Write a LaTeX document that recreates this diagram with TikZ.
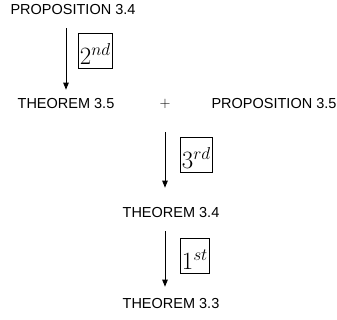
\documentclass[tikz,border=0pt]{standalone}
\usepackage{fontspec}
\setmainfont{Liberation Sans}
\usetikzlibrary{positioning, arrows.meta}

\begin{document}
\begin{tikzpicture}[
    x=1pt, y=-1pt,
    thm/.style={inner sep=2pt, font=\fontsize{14.5}{17}\selectfont},
    order/.style={draw, line width=0.7pt, inner xsep=1.5pt, inner ysep=3.3pt,
                  text height=28.4pt, text depth=0pt,
                  font=\fontsize{24}{28}\selectfont},
    arr/.style={-{Triangle[length=7pt, width=5.5pt]}, line width=0.8pt}
]
\useasboundingbox (0,0) rectangle (337,320);

\node[thm] (prop34) at (73,10)   {PROPOSITION 3.4};
\node[thm] (thm35)  at (66,104)  {THEOREM 3.5};
\node[thm] (plus)   at (165,104) {$+$};
\node[thm] (prop35) at (274,104) {PROPOSITION 3.5};
\node[thm] (thm34)  at (171,213) {THEOREM 3.4};
\node[thm] (thm33)  at (171,304) {THEOREM 3.3};

\draw[arr, shorten <=11pt, shorten >=7pt] (thm35.north |- prop34.south) -- (thm35.north)
    node[order, pos=0.42, right=12pt] (second) {$2^{nd}$};
\draw[arr, shorten <=21pt, shorten >=18pt] (plus |- thm35.south) -- (plus |- thm34.north)
    node[order, pos=0.46, right=15pt] (third) {$3^{rd}$};
\draw[arr, shorten <=11pt, shorten >=10pt] (plus |- thm34.south) -- (plus |- thm33.north)
    node[order, pos=0.46, right=15pt] (first) {$1^{st}$};
\end{tikzpicture}
\end{document}
